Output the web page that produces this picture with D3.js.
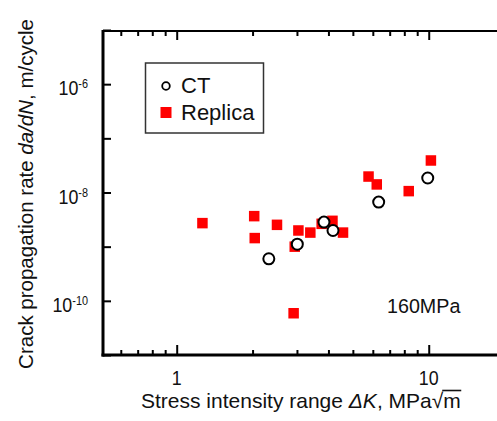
<!DOCTYPE html>
<html>
<head>
<meta charset="utf-8">
<script src="https://cdn.jsdelivr.net/npm/d3@7"></script>
<style>
  html, body { margin: 0; padding: 0; background: #fff; }
  svg { display: block; font-family: "Liberation Sans", Arial, sans-serif; }
</style>
</head>
<body>
<svg id="chart" width="497" height="421"></svg>
<script>
// stress intensity range (MPa sqrt m) and da/dN (m/cycle)
var ctDeltaK = [2.32, 3.01, 3.84, 4.17, 6.33, 9.91];
var ctRate   = [5.97e-10, 1.11e-9, 2.84e-9, 1.99e-9, 6.65e-9, 1.85e-8];

var replicaDeltaK = [1.265, 2.03, 2.50, 2.04, 2.91, 2.94, 3.04, 3.39, 4.15, 3.76, 4.57, 5.77, 6.22, 8.33, 10.2];
var replicaRate   = [2.72e-9, 3.66e-9, 2.53e-9, 1.44e-9, 5.9e-11, 1.0e-9, 1.99e-9, 1.82e-9, 3.0e-9, 2.64e-9, 1.82e-9, 1.97e-8, 1.41e-8, 1.06e-8, 3.9e-8];

var xMajorTicks = [1, 10];
var xMinorTicks = [0.6, 0.7, 0.8, 0.9, 2, 3, 4, 5, 6, 7, 8, 9];
var yTicks = [1e-11, 1e-10, 1e-9, 1e-8, 1e-7, 1e-6, 1e-5];
var yLabelTicks = [{v: 1e-6, exp: "-6"}, {v: 1e-8, exp: "-8"}, {v: 1e-10, exp: "-10"}];

var mLeft = 103, mTop = 30, mBottom = 355, mRight = 504.6;

var svg = d3.select("#chart");

var x = d3.scaleLog().domain([0.51, 20]).range([mLeft, mRight]);
var y = d3.scaleLog().domain([1e-11, 1e-5]).range([mBottom, mTop]);

// bottom axis, inward ticks
var bot = svg.append("g").attr("transform", "translate(0," + mBottom + ")");
bot.call(d3.axisBottom(x).tickValues(xMajorTicks).tickSize(-10).tickFormat("").tickSizeOuter(0));
bot.append("g").call(d3.axisBottom(x).tickValues(xMinorTicks).tickSize(-5).tickFormat("").tickSizeOuter(0));
bot.selectAll(".domain").remove();
bot.selectAll("line").attr("stroke", "#000").attr("stroke-width", 2);

// top axis
var topAx = svg.append("g").attr("transform", "translate(0," + (mTop + 1) + ")");
topAx.call(d3.axisTop(x).tickValues(xMajorTicks).tickSize(-9).tickFormat("").tickSizeOuter(0));
topAx.append("g").call(d3.axisTop(x).tickValues(xMinorTicks).tickSize(-5).tickFormat("").tickSizeOuter(0));
topAx.selectAll(".domain").remove();
topAx.selectAll("line").attr("stroke", "#000").attr("stroke-width", 2);

// left axis
var leftAx = svg.append("g").attr("transform", "translate(" + mLeft + ",0)");
leftAx.call(d3.axisLeft(y).tickValues(yTicks).tickSize(-8).tickFormat("").tickSizeOuter(0));
leftAx.selectAll(".domain").remove();
leftAx.selectAll("line").attr("stroke", "#000").attr("stroke-width", 2);

// axis lines
svg.append("line").attr("x1", mLeft).attr("x2", mLeft).attr("y1", mTop).attr("y2", mBottom + 1.5)
  .attr("stroke", "#000").attr("stroke-width", 3);
svg.append("line").attr("x1", mLeft - 1.5).attr("x2", 497).attr("y1", mBottom).attr("y2", mBottom)
  .attr("stroke", "#000").attr("stroke-width", 3);
svg.append("line").attr("x1", mLeft).attr("x2", 497).attr("y1", mTop + 1).attr("y2", mTop + 1)
  .attr("stroke", "#000").attr("stroke-width", 2);

// tick labels (reference font is a bit narrow)
var squeeze = 0.87;
svg.selectAll(".xlab").data(xMajorTicks).enter().append("text")
  .attr("transform", d => "translate(" + x(d) + ",385) scale(" + squeeze + ",1)")
  .attr("text-anchor", "middle").attr("font-size", 20.5).attr("fill", "#111")
  .text(d => d);

var yl = svg.selectAll(".ylab").data(yLabelTicks).enter().append("text")
  .attr("transform", d => "translate(88," + (y(d.v) + 11) + ") scale(" + squeeze + ",1)")
  .attr("text-anchor", "end").attr("font-size", 20.5).attr("fill", "#111");
yl.append("tspan").text("10");
yl.append("tspan").attr("font-size", 12.5).attr("dy", -7).text(d => d.exp);

// axis titles
var xt = svg.append("text").attr("x", 141).attr("y", 408)
  .attr("font-size", 21).attr("fill", "#111");
xt.append("tspan").text("Stress intensity range ");
xt.append("tspan").attr("font-style", "italic").text("\u0394K");
xt.append("tspan").text(", MPa\u221A");
xt.append("tspan").text("m");
var nChars = xt.text().length;
var mStart = xt.node().getStartPositionOfChar(nChars - 1);
var mEnd = xt.node().getEndPositionOfChar(nChars - 1);
svg.append("line").attr("x1", mStart.x - 1).attr("x2", mEnd.x + 0.5)
  .attr("y1", 408 - 17.5).attr("y2", 408 - 17.5).attr("stroke", "#111").attr("stroke-width", 1.6);

var yt = svg.append("text").attr("transform", "translate(33,194) rotate(-90)")
  .attr("text-anchor", "middle").attr("font-size", 20.5).attr("fill", "#111");
yt.append("tspan").text("Crack propagation rate ");
yt.append("tspan").attr("font-style", "italic").text("da/dN");
yt.append("tspan").text(", m/cycle");

svg.append("text").attr("x", 387).attr("y", 313).attr("font-size", 19.7).attr("fill", "#111").text("160MPa");

// data
var sq = 10.5;
svg.selectAll(".rep").data(replicaDeltaK).enter().append("rect")
  .attr("x", (d, i) => x(d) - sq / 2)
  .attr("y", (d, i) => y(replicaRate[i]) - sq / 2)
  .attr("width", sq).attr("height", sq).attr("fill", "#ff0000");

svg.selectAll(".ct").data(ctDeltaK).enter().append("circle")
  .attr("cx", d => x(d))
  .attr("cy", (d, i) => y(ctRate[i]))
  .attr("r", 5.5).attr("fill", "#fff").attr("stroke", "#000").attr("stroke-width", 2);

// legend
svg.append("rect").attr("x", 145.5).attr("y", 63).attr("width", 118).attr("height", 70)
  .attr("fill", "#fff").attr("stroke", "#333").attr("stroke-width", 1.5);
svg.append("circle").attr("cx", 166).attr("cy", 86).attr("r", 3.8)
  .attr("fill", "#fff").attr("stroke", "#000").attr("stroke-width", 1.8);
svg.append("text").attr("x", 181).attr("y", 93).attr("font-size", 22).attr("fill", "#111").text("CT");
svg.append("rect").attr("x", 160.5).attr("y", 107).attr("width", 11).attr("height", 11).attr("fill", "#ff0000");
svg.append("text").attr("x", 181).attr("y", 119.5).attr("font-size", 22).attr("fill", "#111").text("Replica");
</script>
</body>
</html>
